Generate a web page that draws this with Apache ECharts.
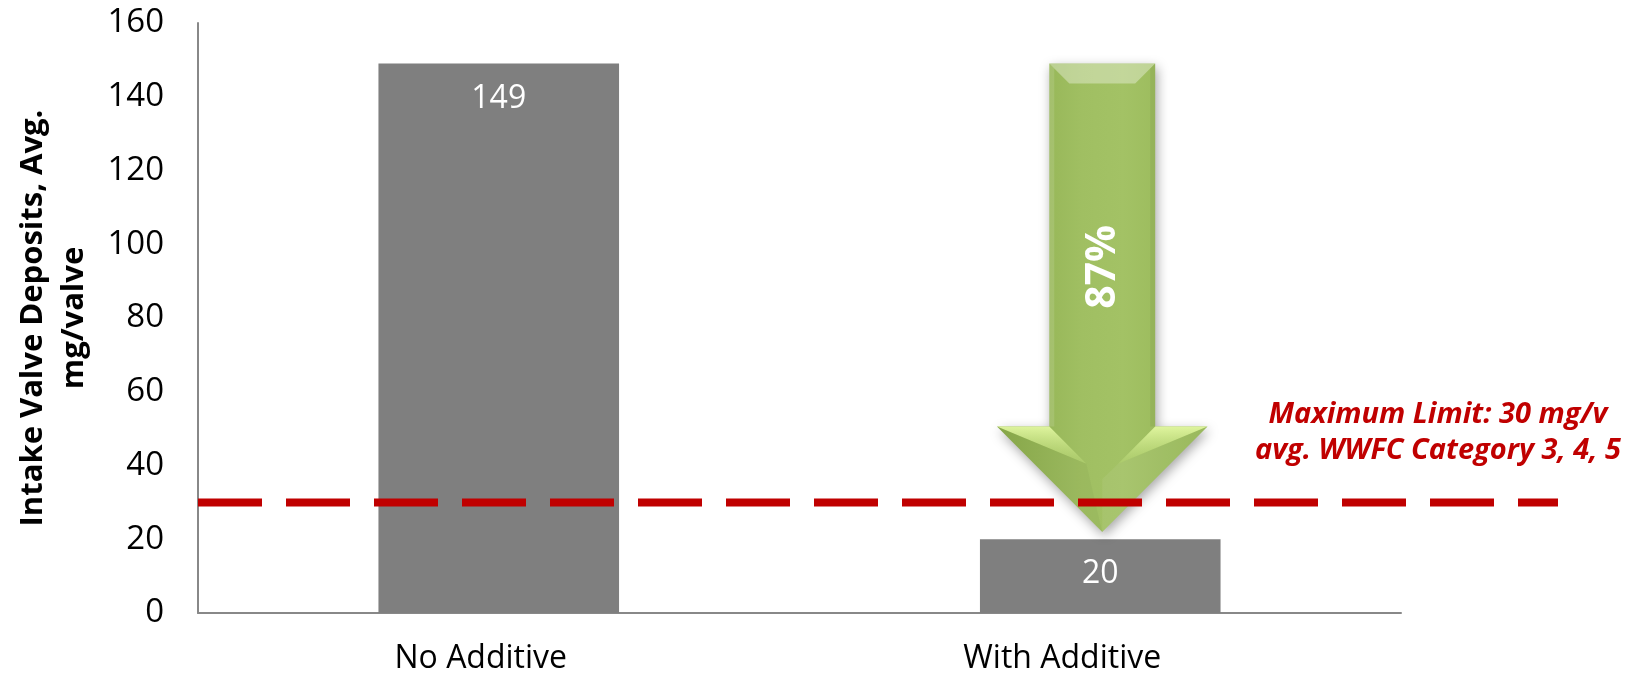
<!DOCTYPE html>
<html>
<head>
<meta charset="utf-8">
<script src="https://cdn.jsdelivr.net/npm/echarts@6/dist/echarts.min.js"></script>
<style>
  html, body { margin: 0; padding: 0; background: #fff; }
  #chart { width: 1633px; height: 675px; }
</style>
</head>
<body>
<div id="chart"></div>
<script>
// Intake valve deposits with and without the additive
const categories = ['No Additive', 'With Additive'];
const ivdValues = [149, 20];
const yMin = 0;
const yMax = 160;
const yStep = 20;
const yAxisTitle = ['Intake Valve Deposits, Avg.', 'mg/valve'];

// WWFC limit
const limitValue = 30;
const limitText = ['Maximum Limit: 30 mg/v', 'avg. WWFC Category 3, 4, 5'];

// reduction arrow: [category index, start value, tip value]
const arrowSpan = [1, 149, 22];
const reductionPct = Math.round((ivdValues[0] - ivdValues[1]) / ivdValues[0] * 100);

const FONT = '"Open Sans", "Noto Sans", sans-serif';
const chart = echarts.init(document.getElementById('chart'), null, { renderer: 'canvas' });

function renderArrow(params, api) {
  const top = api.coord([api.value(0), api.value(1)]);
  const tipPt = api.coord([api.value(0), api.value(2)]);
  const band = api.size([1, 0])[0];
  const cx = top[0] + 2;
  const sw = band * 0.088;       // half shaft width
  const hw = band * 0.175;       // half head width
  const headLen = hw;            // 45 degree head
  const yT = top[1];
  const y2 = tipPt[1];
  const y1 = y2 - headLen;
  const L = cx - sw, R = cx + sw;
  const d = 20;

  const outline = [[L, yT], [R, yT], [R, y1], [cx + hw, y1], [cx, y2], [cx - hw, y1], [L, y1]];
  const green = new echarts.graphic.LinearGradient(0, 0, 1, 0, [
    { offset: 0, color: '#8bac4b' },
    { offset: 0.4, color: '#a0bf62' },
    { offset: 0.6, color: '#a3c265' },
    { offset: 1, color: '#93b453' }
  ]);
  const lightUL = new echarts.graphic.LinearGradient(0, 0, 0, 1, [
    { offset: 0, color: 'rgba(235,255,170,0.85)' },
    { offset: 1, color: 'rgba(200,230,130,0.25)' }
  ]);

  const facet = (pts, fill) => ({ type: 'polygon', shape: { points: pts }, style: { fill: fill }, silent: true });
  const ml = (cx - hw + L) / 2 + (cx - L) * 0.7;   // inner point of the light head facets
  const jy = y1 + (cx - L) * 0.7;

  return {
    type: 'group',
    children: [
      { type: 'polygon', shape: { points: outline },
        style: { fill: green, shadowBlur: 12, shadowColor: 'rgba(0,0,0,0.35)', shadowOffsetX: 2, shadowOffsetY: 4 } },
      // shaft bevels
      facet([[L, yT], [R, yT], [R - d, yT + d], [L + d, yT + d]], 'rgba(255,255,255,0.35)'),
      facet([[L, yT], [L + 5, yT + 5], [L + 5, y1], [L, y1]], 'rgba(255,255,255,0.12)'),
      facet([[R, yT], [R - 5, yT + 5], [R - 5, y1], [R, y1]], 'rgba(0,0,0,0.05)'),
      // head bevels
      facet([[cx - hw, y1], [L, y1], [cx - (cx - L) * 0.3, jy]], lightUL),
      facet([[cx + hw, y1], [R, y1], [cx + (cx - L) * 0.3, jy]], lightUL),
      facet([[cx - hw, y1], [cx - (cx - L) * 0.3, jy], [cx, y2]], 'rgba(0,0,0,0.03)'),
      facet([[cx, y1 + (y2 - y1) * 0.5], [cx, y2], [cx + hw, y1], [cx + (cx - L) * 0.3, jy]], 'rgba(255,255,255,0.06)'),
      {
        type: 'text',
        x: cx + 1,
        y: yT + (y1 - yT) * 0.56,
        rotation: Math.PI / 2,
        style: {
          text: reductionPct + '%',
          fill: '#ffffff',
          font: 'bold 41px ' + FONT,
          align: 'center',
          verticalAlign: 'middle',
          shadowColor: 'rgba(0,0,0,0.6)',
          shadowBlur: 3,
          shadowOffsetX: 3,
          shadowOffsetY: 2
        }
      }
    ]
  };
}

const option = {
  animation: false,
  backgroundColor: '#ffffff',
  grid: [
    { left: 198, right: 232, top: 23, bottom: 62 },
    { left: 198, right: 75, top: 23, bottom: 62 }
  ],
  xAxis: [
    {
      type: 'category',
      gridIndex: 0,
      data: categories,
      axisLine: { show: true, lineStyle: { color: '#888888', width: 2 } },
      axisTick: { show: false },
      axisLabel: {
        margin: 30,
        color: '#000',
        fontFamily: FONT,
        fontSize: 32,
        formatter: (v, i) => (i === 0 ? '{a|' + v + '}' : '{b|' + v + '}'),
        rich: {
          a: { fontFamily: FONT, fontSize: 32, color: '#000', padding: [0, 36, 0, 0] },
          b: { fontFamily: FONT, fontSize: 32, color: '#000', padding: [0, 76, 0, 0] }
        }
      }
    },
    { type: 'value', gridIndex: 1, min: 0, max: 1, show: false }
  ],
  yAxis: [
    {
      type: 'value',
      gridIndex: 0,
      min: yMin,
      max: yMax,
      interval: yStep,
      name: yAxisTitle.join('\n'),
      nameLocation: 'middle',
      nameRotate: 90,
      nameGap: 103,
      nameTextStyle: { fontFamily: FONT, fontSize: 31, fontWeight: 'bold', color: '#000', lineHeight: 41 },
      axisLine: { show: true, lineStyle: { color: '#888888', width: 2 } },
      axisTick: { show: false },
      splitLine: { show: false },
      axisLabel: { margin: 34, color: '#000', fontFamily: FONT, fontSize: 33 }
    },
    { type: 'value', gridIndex: 1, min: yMin, max: yMax, show: false }
  ],
  series: [
    {
      type: 'bar',
      xAxisIndex: 0,
      yAxisIndex: 0,
      data: ivdValues,
      barWidth: '40%',
      itemStyle: { color: '#7f7f7f' },
      label: {
        show: true,
        position: 'insideTop',
        distance: 19,
        color: '#ffffff',
        fontFamily: FONT,
        fontSize: 32
      },
      z: 2
    },
    {
      type: 'custom',
      xAxisIndex: 0,
      yAxisIndex: 0,
      renderItem: renderArrow,
      data: [arrowSpan],
      z: 3,
      silent: true
    },
    {
      type: 'line',
      xAxisIndex: 1,
      yAxisIndex: 1,
      data: [[0, limitValue], [1, limitValue]],
      symbol: 'none',
      lineStyle: { color: '#c00000', width: 8, type: [64, 24], cap: 'butt' },
      z: 5,
      silent: true
    }
  ],
  graphic: [
    {
      type: 'text',
      x: 1438,
      y: 433,
      style: {
        text: limitText.join('\n'),
        fill: '#c00000',
        font: 'italic bold 29px ' + FONT,
        lineHeight: 36,
        align: 'center',
        verticalAlign: 'middle'
      }
    }
  ]
};

chart.setOption(option);
</script>
</body>
</html>
